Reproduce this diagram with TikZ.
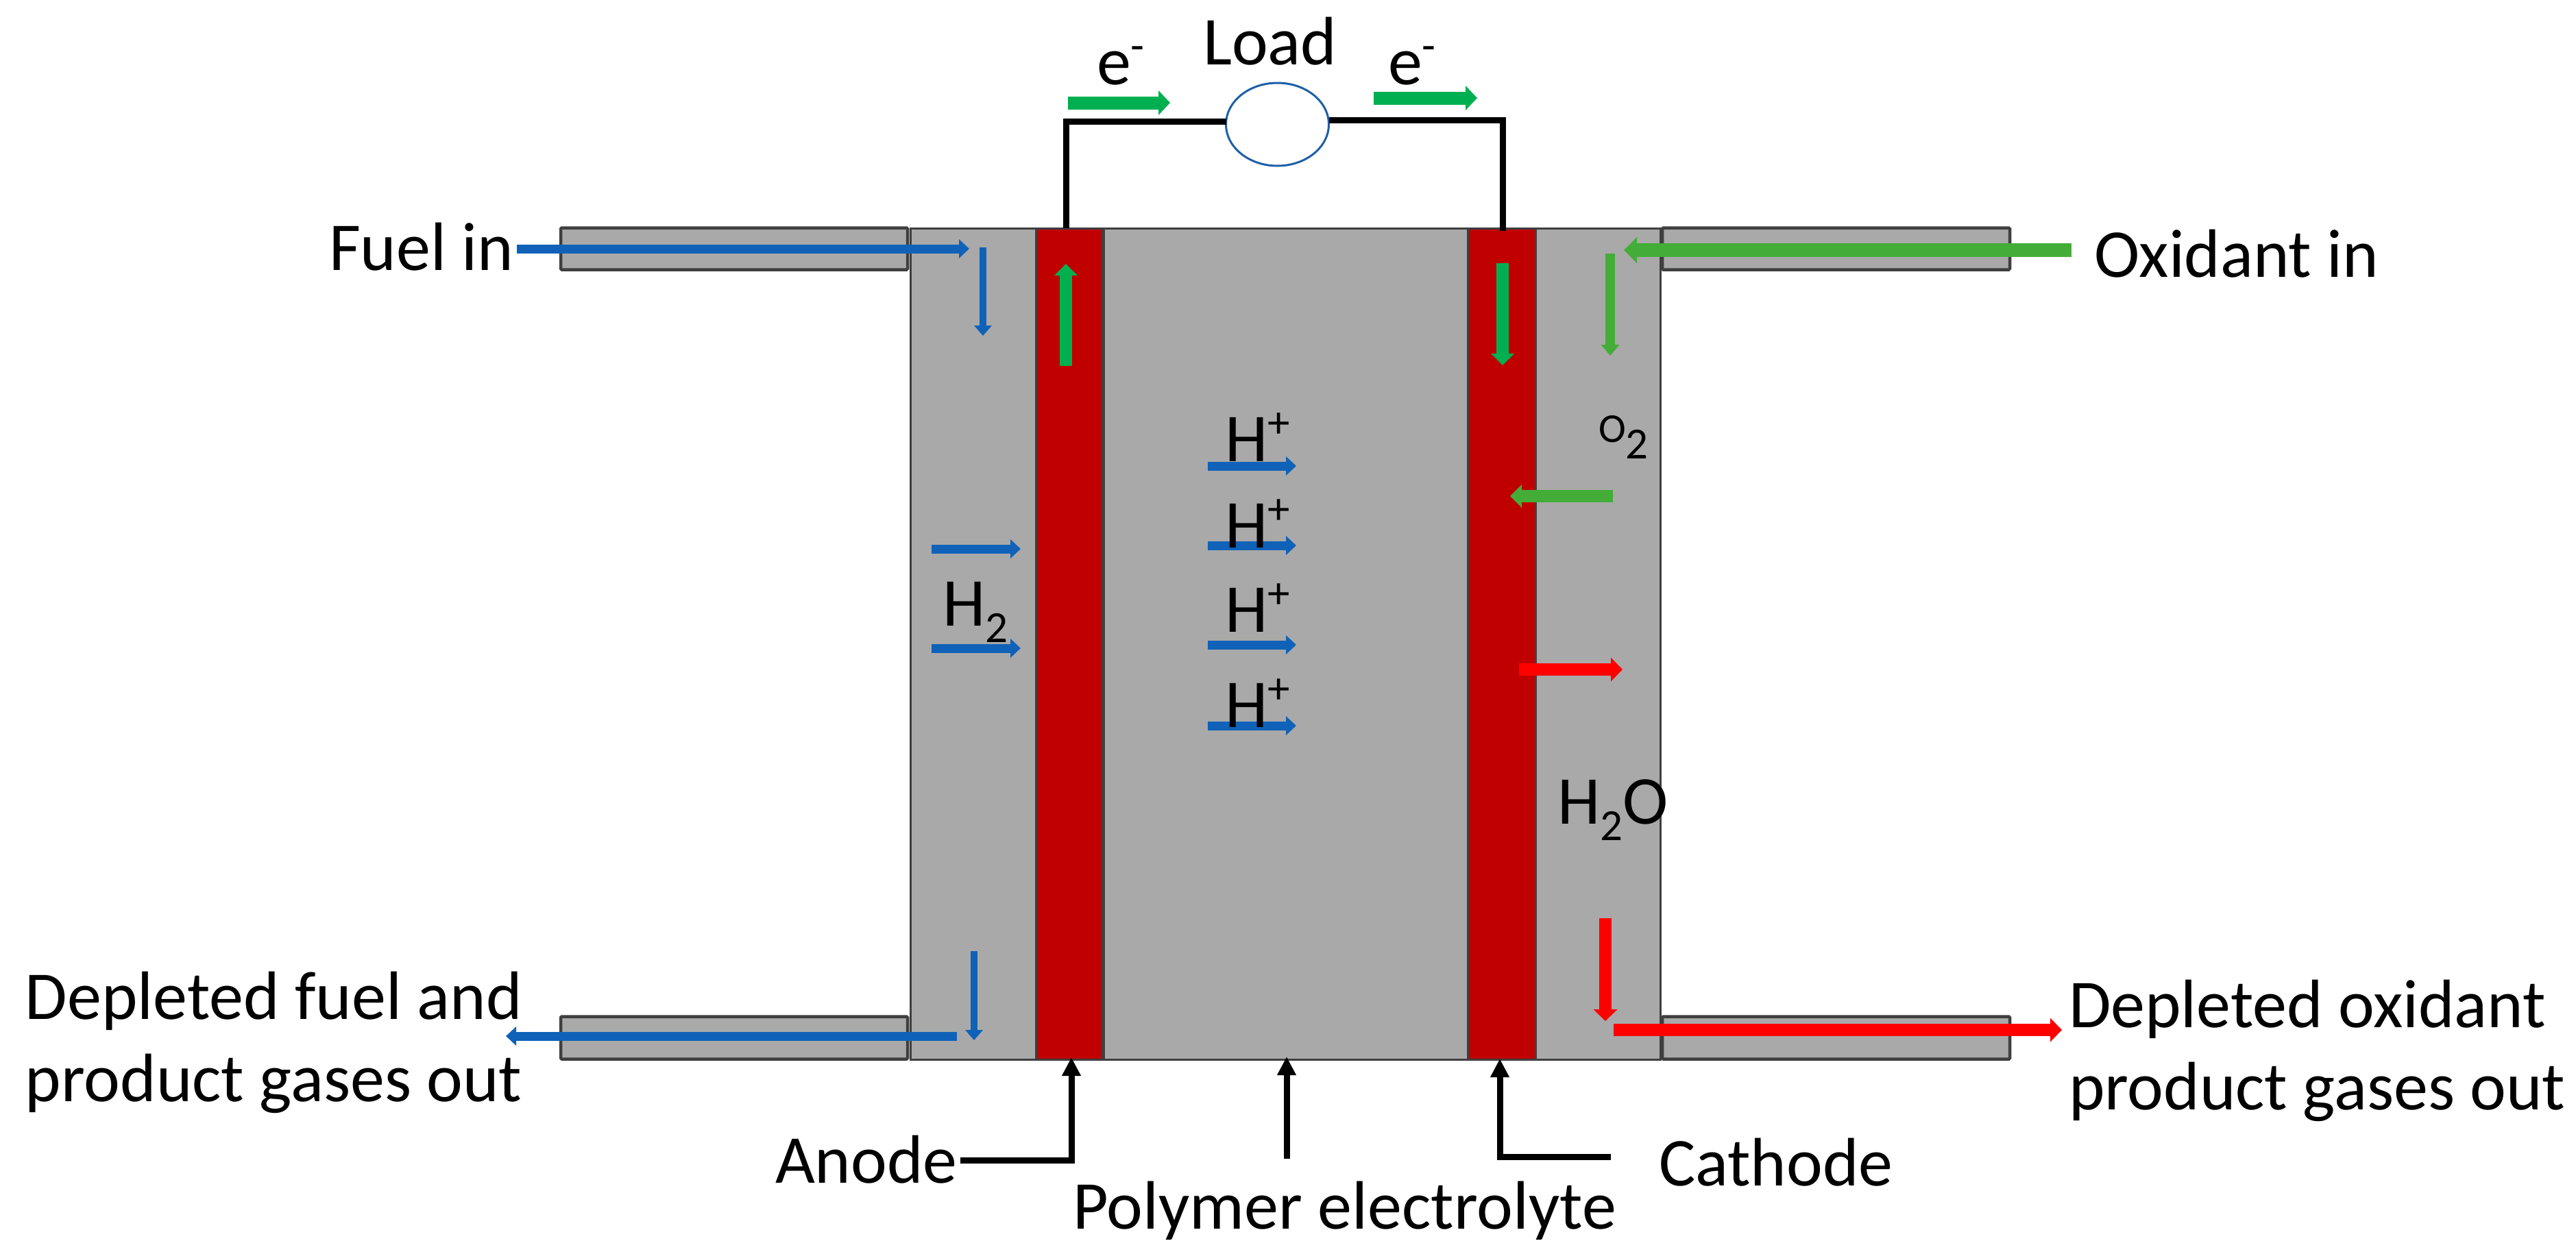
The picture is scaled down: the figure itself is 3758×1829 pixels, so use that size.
\documentclass[tikz,border=0pt]{standalone}
\usepackage{fontspec}
\setmainfont{Carlito}
\usetikzlibrary{arrows.meta,shapes.geometric}
\newcommand{\subtwo}[1]{\raisebox{-4.8pt}{\fontsize{13pt}{13pt}\selectfont #1}}
\newcommand{\suptxt}[1]{\raisebox{7pt}{\fontsize{13pt}{13pt}\selectfont #1}}
\tikzset{
  lbl/.style={inner sep=0pt,outer sep=0pt,anchor=base west,text=black,font=\fontsize{20pt}{24pt}\selectfont},
  lblml/.style={lbl,align=left},
  lblsm/.style={lbl,font=\fontsize{12pt}{14pt}\selectfont},
  slab/.style={draw=gridline,fill=cellgray,line width=0.6pt,inner sep=0pt,outer sep=0pt},
  pipe/.style={slab,line width=0.9pt,rounded corners=0.3pt},
  electrode/.style={slab,fill=elecred},
  wire/.style={draw=black,line width=1.8pt,line join=miter},
  pointer/.style={draw=black,line width=1.8pt,line join=miter,-{Triangle[length=5.4pt,width=5.2pt]}},
  bluesm/.style={draw=flowblue,line width=2.6pt,-{Triangle[length=3pt,width=5.4pt]}},
  bluedn/.style={draw=flowblue,line width=2pt,-{Triangle[length=3pt,width=5pt]}},
  egreen/.style={draw=elecgreen,line width=3.8pt,-{Triangle[length=3.4pt,width=7pt]}},
  greenv/.style={draw=elecgreen,line width=3.6pt,-{Triangle[length=3.4pt,width=6.6pt]}},
  oxdn/.style={draw=oxgreen,line width=2.8pt,-{Triangle[length=3.2pt,width=5.2pt]}},
  oxin/.style={draw=oxgreen,line width=4pt,-{Triangle[length=3.8pt,width=7.4pt]}},
  oxleft/.style={draw=oxgreen,line width=3.6pt,-{Triangle[length=3.4pt,width=6.6pt]}},
  redflow/.style={draw=flowred,line width=3.6pt,-{Triangle[length=3.4pt,width=6.8pt]}},
}
\definecolor{cellgray}{HTML}{A9A9A9}
\definecolor{gridline}{HTML}{3F3F3F}
\definecolor{elecred}{HTML}{C00000}
\definecolor{flowblue}{HTML}{0F62B8}
\definecolor{elecgreen}{HTML}{00B050}
\definecolor{oxgreen}{HTML}{43AD38}
\definecolor{flowred}{HTML}{FF0000}
\definecolor{loadblue}{HTML}{1F5FA6}
\begin{document}
\begin{tikzpicture}[x=0.2pt,y=-0.2pt]
\useasboundingbox (0,0) rectangle (3758,1829);
% tubes
\node[pipe,minimum width=101.2pt,minimum height=12.2pt] (tubeLT) at (1071,363) {};
\node[pipe,minimum width=101.2pt,minimum height=12.4pt] (tubeLB) at (1071,1514.5) {};
\node[pipe,minimum width=101.4pt,minimum height=12.2pt] (tubeRT) at (2678.5,363) {};
\node[pipe,minimum width=101.4pt,minimum height=12.4pt] (tubeRB) at (2678.5,1514.5) {};
% cell layers
\node[slab,minimum width=36.6pt,minimum height=242.6pt] (plateA) at (1419.5,939.5) {};
\node[slab,minimum width=106.2pt,minimum height=242.6pt] (membrane) at (1875.5,939.5) {};
\node[slab,minimum width=36.4pt,minimum height=242.6pt] (plateC) at (2331,939.5) {};
\node[electrode,minimum width=19.4pt,minimum height=242.6pt] (anodeE) at (1559.5,939.5) {};
\node[electrode,minimum width=19.8pt,minimum height=242.6pt] (cathodeE) at (2190.5,939.5) {};
% load and circuit
\node[ellipse,draw=loadblue,fill=white,line width=0.6pt,inner sep=0pt,outer sep=0pt,minimum width=30pt,minimum height=24.2pt] (load) at (1863.5,181.5) {};
\coordinate (wLb) at (1555,333);
\coordinate (wLt) at (1555,177);
\coordinate (wRb) at (2192,337);
\coordinate (wRt) at (2192,175);
\draw[wire] (wLb) -- (wLt) -- (load.west |- wLt);
\draw[wire] (wRb) -- (wRt) -- (load.east |- wRt);
% electron arrows
\coordinate (e1a) at (1558,150); \coordinate (e1b) at (1707,150);
\coordinate (e2a) at (2004,143); \coordinate (e2b) at (2155,143);
\draw[egreen] (e1a) -- (e1b);
\draw[egreen] (e2a) -- (e2b);
\coordinate (e3a) at (1555,534); \coordinate (e3b) at (1555,385);
\coordinate (e4a) at (2192,384); \coordinate (e4b) at (2192,533);
\draw[greenv] (e3a) -- (e3b);
\draw[greenv] (e4a) -- (e4b);
% fuel
\coordinate (f1a) at (754,363); \coordinate (f1b) at (1414,363);
\coordinate (f2a) at (1434,361); \coordinate (f2b) at (1434,490);
\coordinate (f3a) at (1421,1388); \coordinate (f3b) at (1421,1518);
\coordinate (f4a) at (1396,1512); \coordinate (f4b) at (738,1512);
\draw[bluesm] (f1a) -- (f1b);
\draw[bluedn] (f2a) -- (f2b);
\draw[bluedn] (f3a) -- (f3b);
\draw[bluesm] (f4a) -- (f4b);
\coordinate (h1a) at (1359,801); \coordinate (h1b) at (1489,801);
\coordinate (h2a) at (1359,946); \coordinate (h2b) at (1489,946);
\draw[bluesm] (h1a) -- (h1b);
\draw[bluesm] (h2a) -- (h2b);
% protons
\coordinate (p1a) at (1762,680); \coordinate (p1b) at (1891,680);
\coordinate (p2a) at (1762,796); \coordinate (p2b) at (1891,796);
\coordinate (p3a) at (1762,941); \coordinate (p3b) at (1891,941);
\coordinate (p4a) at (1762,1059); \coordinate (p4b) at (1891,1059);
\draw[bluesm] (p1a) -- (p1b);
\draw[bluesm] (p2a) -- (p2b);
\draw[bluesm] (p3a) -- (p3b);
\draw[bluesm] (p4a) -- (p4b);
% oxidant
\coordinate (o1a) at (3022,365); \coordinate (o1b) at (2369,365);
\coordinate (o2a) at (2349,370); \coordinate (o2b) at (2349,519);
\coordinate (o3a) at (2353,724); \coordinate (o3b) at (2203,724);
\draw[oxin] (o1a) -- (o1b);
\draw[oxdn] (o2a) -- (o2b);
\draw[oxleft] (o3a) -- (o3b);
% water
\coordinate (r1a) at (2216,977); \coordinate (r1b) at (2367,977);
\coordinate (r2a) at (2342,1340); \coordinate (r2b) at (2342,1490);
\coordinate (r3a) at (2354,1503); \coordinate (r3b) at (3008,1503);
\draw[redflow] (r1a) -- (r1b);
\draw[redflow] (r2a) -- (r2b);
\draw[redflow] (r3a) -- (r3b);
% pointers
\coordinate (an0) at (1401,1693); \coordinate (an1) at (1563,1693); \coordinate (an2) at (1563,1543);
\coordinate (pe0) at (1877,1691); \coordinate (pe2) at (1877,1542);
\coordinate (ca0) at (2350,1688); \coordinate (ca1) at (2188,1688); \coordinate (ca2) at (2188,1545);
\draw[pointer] (an0) -- (an1) -- (an2);
\draw[pointer] (pe0) -- (pe2);
\draw[pointer] (ca0) -- (ca1) -- (ca2);
% labels
\node[lbl] (tLoad) at (1755,94) {Load};
\node[lbl] (tE1) at (1600,123) {e\suptxt{-}};
\node[lbl] (tE2) at (2025,123) {e\suptxt{-}};
\node[lbl] (tFuel) at (480,394) {Fuel in};
\node[lbl] (tOx) at (3055,404) {Oxidant in};
\node[lbl] (tH2) at (1375,913) {H\subtwo{2}};
\node[lbl] (tP1) at (1787,673) {H\suptxt{+}};
\node[lbl] (tP2) at (1787,799) {H\suptxt{+}};
\node[lbl] (tP3) at (1787,922) {H\suptxt{+}};
\node[lbl] (tP4) at (1787,1061) {H\suptxt{+}};
\node[lblsm] (tO2) at (2332,645) {O\raisebox{-4.8pt}{\fontsize{13pt}{13pt}\selectfont 2}};
\node[lbl] (tH2O) at (2272,1202) {H\subtwo{2}O};
\node[lbl] (tAnode) at (1131,1726) {Anode};
\node[lbl] (tPoly) at (1565,1793) {Polymer electrolyte};
\node[lbl] (tCath) at (2420,1730) {Cathode};
\node[lblml] (tDF) at (37,1607) {Depleted fuel and\\product gases out};
\node[lblml] (tDO) at (3018,1619) {Depleted oxidant\\product gases out};
\end{tikzpicture}
\end{document}
